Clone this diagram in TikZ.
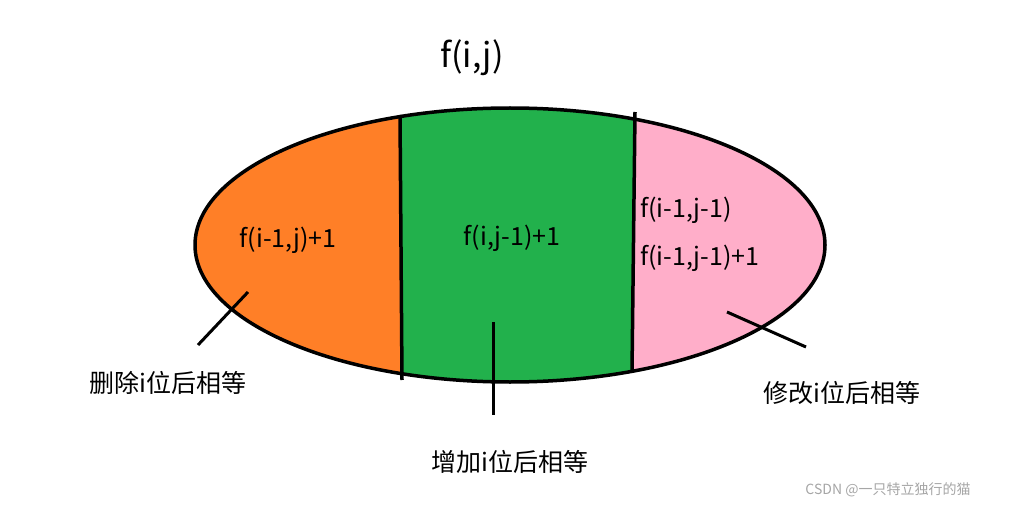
\documentclass[tikz,border=0pt]{standalone}
\usepackage{fontspec}
\setmainfont{Noto Sans CJK SC}
\definecolor{orng}{RGB}{255,127,39}
\definecolor{grn}{RGB}{34,177,76}
\definecolor{pnk}{RGB}{255,174,201}
\begin{document}
\begin{tikzpicture}[x=1pt,y=-1pt,
  lbl/.style={inner sep=0pt,font=\fontsize{25}{28}\selectfont},
  edge/.style={line width=3.5pt,black}]
\useasboundingbox[fill=white] (0,0) rectangle (1018,508);
\begin{scope}
\clip (510,245) ellipse [x radius=315, y radius=137];
\fill[orng] (150,80) rectangle (401,400);
\fill[grn] (401,80) rectangle (633,400);
\fill[pnk] (633,80) rectangle (860,400);
\end{scope}
\draw[edge] (510,245) ellipse [x radius=315, y radius=137];
\coordinate (l1) at (400,115); \coordinate (l2) at (402,380);
\coordinate (m1) at (635,112); \coordinate (m2) at (632,372);
\draw[edge] (l1) -- (l2);
\draw[edge] (m1) -- (m2);
\node[lbl,font=\fontsize{34}{38}\selectfont] (t) at (472,58) {f(i,j)};
\node[lbl] (a) at (288,240) {f(i-1,j)+1};
\node[lbl] (b) at (512,238) {f(i,j-1)+1};
\node[lbl,anchor=west] (c1) at (640,210) {f(i-1,j-1)};
\node[lbl,anchor=west] (c2) at (640,258) {f(i-1,j-1)+1};
\node[lbl] (d) at (168,383) {删除i位后相等};
\node[lbl] (e) at (510,462) {增加i位后相等};
\node[lbl] (f) at (842,393) {修改i位后相等};
\node[inner sep=0pt,font=\fontsize{14}{16}\selectfont,text=gray!70] (w) at (888,490) {CSDN @一只特立独行的猫};
\coordinate (p1) at (248,292); \coordinate (p2) at (198,345);
\coordinate (q1) at (493,322); \coordinate (q2) at (493,415);
\coordinate (r1) at (727,312); \coordinate (r2) at (806,347);
\draw[edge,line width=3pt] (p1) -- (p2);
\draw[edge,line width=3pt] (q1) -- (q2);
\draw[edge,line width=3pt] (r1) -- (r2);
\end{tikzpicture}
\end{document}
